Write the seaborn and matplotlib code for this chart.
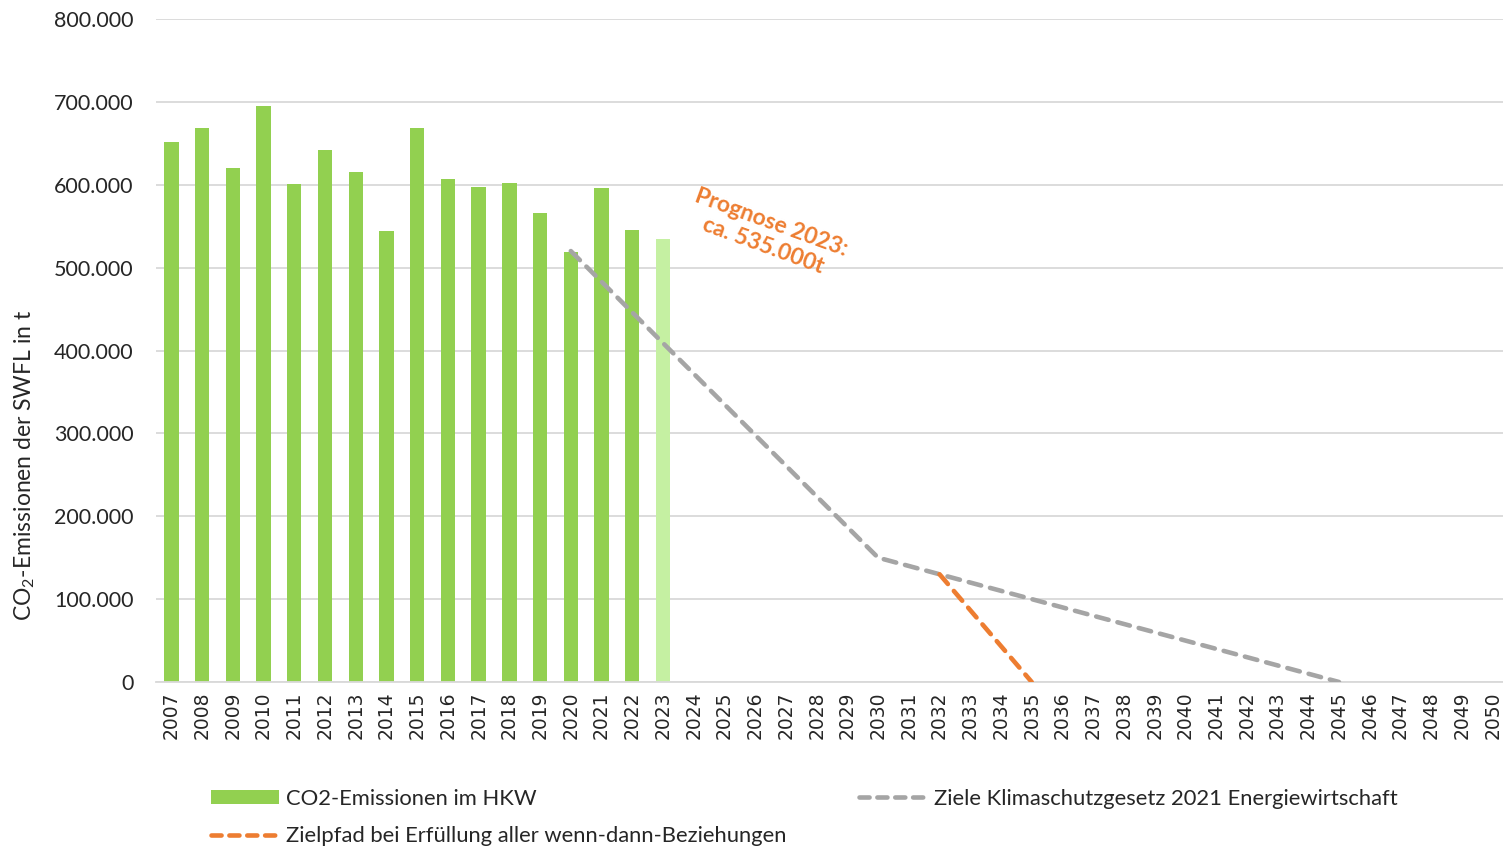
import pandas as pd
import seaborn as sns
import matplotlib.pyplot as plt
from matplotlib.patches import Patch
from matplotlib.lines import Line2D
from matplotlib.ticker import FuncFormatter

# Daten
bar_years = list(range(2007, 2024))
bar_values = [651000, 669000, 620000, 695000, 601000, 642000, 615000, 544000, 668000,
              607000, 597000, 602000, 566000, 519000, 596000, 545000, 535000]
bar_type = ["Ist"] * 16 + ["Prognose"]

ziel_years = [2020, 2030, 2045]
ziel_values = [520000, 150000, 0]

pfad_years = [2032, 2035]
pfad_values = [130000, 0]

all_years = list(range(2007, 2051))

GREEN = "#92D050"
LIGHT_GREEN = "#C5F0A2"
GREY = "#A5A5A5"
ORANGE = "#ED7D31"

sns.set_theme(style="white")
plt.rcParams["font.family"] = ["Lato", "DejaVu Sans"]
plt.rcParams["mathtext.fontset"] = "custom"
plt.rcParams["mathtext.rm"] = "Lato"

fig = plt.figure(figsize=(15.03, 8.46), dpi=100)
ax = fig.add_axes([156 / 1503, 1 - 682 / 846, (1508 - 156) / 1503, (682 - 19) / 846])

df = pd.DataFrame({"jahr": bar_years, "wert": bar_values, "typ": bar_type})
sns.barplot(data=df, x="jahr", y="wert", hue="typ", native_scale=True, dodge=False,
            palette={"Ist": GREEN, "Prognose": LIGHT_GREEN}, width=0.47, saturation=1,
            linewidth=0, legend=False, ax=ax, zorder=2)

dash = (0, (2.8, 2.0))
ziel = pd.DataFrame({"jahr": ziel_years, "wert": ziel_values})
pfad = pd.DataFrame({"jahr": pfad_years, "wert": pfad_values})
sns.lineplot(data=ziel, x="jahr", y="wert", color=GREY, lw=3.3, ax=ax, zorder=3,
             linestyle=dash, dash_capstyle="round")
sns.lineplot(data=pfad, x="jahr", y="wert", color=ORANGE, lw=3.3, ax=ax, zorder=4,
             linestyle=dash, dash_capstyle="round")

ax.set_xlim(2006.5, 2050.5)
ax.set_ylim(0, 800000)
ax.set_yticks(range(0, 800001, 100000))
ax.yaxis.set_major_formatter(FuncFormatter(lambda v, p: f"{int(v):,}".replace(",", ".")))
ax.set_xticks(all_years)
ax.set_xticklabels([str(y) for y in all_years], rotation=90, fontsize=13.5,
                   family=["DejaVu Sans"])
ax.tick_params(axis="y", labelsize=15.5, pad=16, length=0)
ax.tick_params(axis="x", pad=7, length=0)
ax.grid(axis="y", color="#D9D9D9", lw=1.3, zorder=0)
ax.set_axisbelow(True)
for s in ["top", "right", "left"]:
    ax.spines[s].set_visible(False)
ax.spines["bottom"].set_color("#D9D9D9")
ax.spines["bottom"].set_linewidth(1.3)
ax.set_xlabel("")
ax.set_ylabel("")

fig.text(25 / 1503, 1 - 465 / 846, "CO$_\\mathregular{2}$-Emissionen der SWFL in t",
         rotation=90, ha="center", va="center", fontsize=16.5)

ax.text(2026.4, 540000, "Prognose 2023:\nca. 535.000t", color=ORANGE, fontsize=16.5,
        fontweight="bold", rotation=-20, ha="center", va="center",
        rotation_mode="anchor", multialignment="center")

leg_dash = (0, (2.2, 1.7))
handles = [
    Patch(facecolor=GREEN, edgecolor="none", label="CO2-Emissionen im HKW"),
    Line2D([0], [0], color=ORANGE, lw=3.3, linestyle=leg_dash, dash_capstyle="round",
           label="Zielpfad bei Erfüllung aller wenn-dann-Beziehungen"),
    Line2D([0], [0], color=GREY, lw=3.3, linestyle=leg_dash, dash_capstyle="round",
           label="Ziele Klimaschutzgesetz 2021 Energiewirtschaft"),
]
fig.legend(handles=handles, loc="upper left", bbox_to_anchor=(191 / 1503, 1 - 769 / 846),
           ncol=2, frameon=False, fontsize=15.8, handlelength=3.1, handleheight=0.65,
           handletextpad=0.32, columnspacing=3.3, labelspacing=0.8)

fig.savefig("out.png", dpi=100)
plt.close(fig)
